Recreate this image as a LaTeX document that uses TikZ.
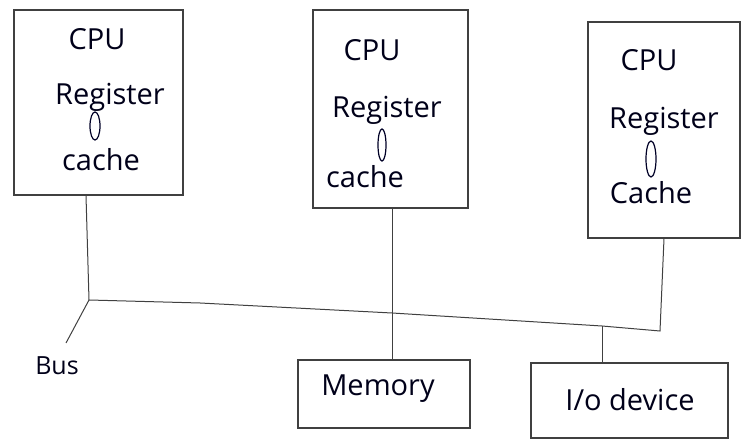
\documentclass[tikz,border=0pt]{standalone}
\usepackage{fontspec}
\setmainfont{Open Sans}
\begin{document}
\begin{tikzpicture}[x=1pt,y=-1pt,
  box/.style={draw=black!75,line width=1.2pt,rectangle,inner sep=0pt},
  wire/.style={draw=black!75,line width=1pt},
  hand/.style={inner sep=0pt,text=black!90!blue,font=\fontsize{29}{32}\selectfont},
  link/.style={draw=black!85!blue,line width=1.2pt}]
  \useasboundingbox (0,0) rectangle (744,443);

  % processor boxes
  \node[box,minimum width=169pt,minimum height=185pt] (cpu1) at (98.5,102.5) {};
  \node[box,minimum width=155pt,minimum height=198pt] (cpu2) at (390.5,109) {};
  \node[box,minimum width=152pt,minimum height=216pt] (cpu3) at (664,130) {};

  % device boxes
  \node[box,minimum width=172pt,minimum height=68pt] (mem) at (384,394) {};
  \node[box,minimum width=197pt,minimum height=75pt] (io) at (629.5,400.5) {};

  % labels inside the processor boxes
  \node[hand] (c1) at (97,39) {CPU};
  \node[hand] (r1) at (110,97) {Register};
  \node[hand] (k1) at (101,160) {cache};
  \draw[link] (95,126) ellipse (5pt and 14pt);

  \node[hand] (c2) at (372,50) {CPU};
  \node[hand] (r2) at (387,110) {Register};
  \node[hand] (k2) at (365,177) {cache};
  \draw[link] (382,145) ellipse (4pt and 16pt);

  \node[hand] (c3) at (649,60) {CPU};
  \node[hand] (r3) at (664,121) {Register};
  \node[hand] (k3) at (651,193) {Cache};
  \draw[link] (651,159) ellipse (5pt and 18pt);

  % labels of the devices and the bus
  \node[hand] (memtxt) at (378,389) {Memory};
  \node[hand] (iotxt) at (630,400) {I/o device};
  \node[hand,font=\fontsize{25}{28}\selectfont] (bus) at (57,366) {Bus};

  % bus junctions
  \coordinate (j1) at (89,300);
  \coordinate (j2) at (392,313);
  \coordinate (j3) at (602,326);
  \coordinate (j4) at (660,331);
  \coordinate (tip) at (66,343);

  % bus and its branches
  \draw[wire] (cpu1.south -| 86,0) -- (j1);
  \draw[wire] (j1) -- (200,303) -- (j2) -- (j3) -- (j4) -- (cpu3.south -| 664,0);
  \draw[wire] (cpu2.south -| j2) -- (mem.north -| j2);
  \draw[wire] (j3) -- (io.north -| j3);
  \draw[wire] (j1) -- (tip);
\end{tikzpicture}
\end{document}
